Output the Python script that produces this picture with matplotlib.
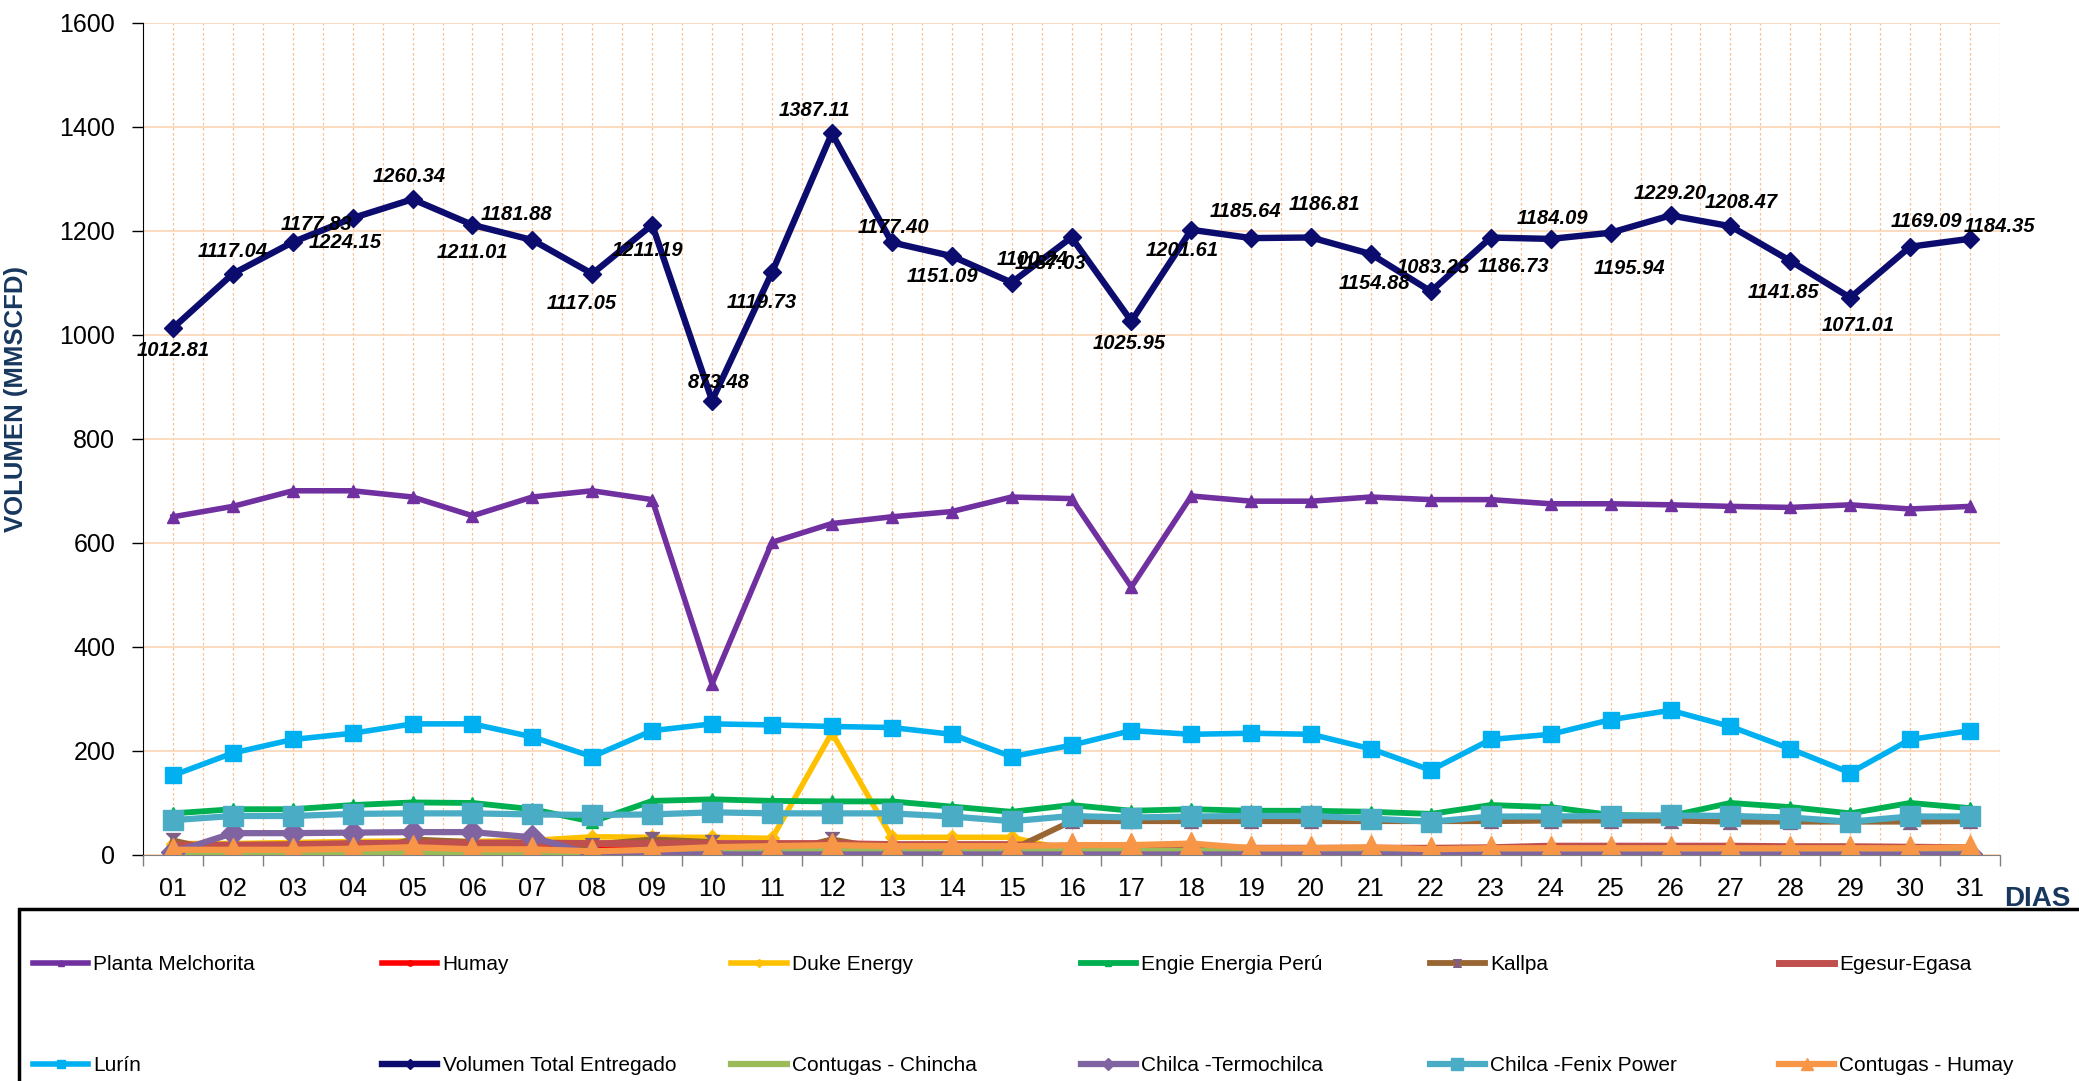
"""
Volumen diario de gas natural entregado por cliente (MMSCFD), dias 01-31.
Output: out.png
"""

import matplotlib
matplotlib.use("Agg")
import matplotlib.pyplot as plt
from matplotlib.path import Path
from matplotlib.patches import Rectangle

W, H = 2079, 1081

days = [f"{d:02d}" for d in range(1, 32)]

melchorita = [650, 670, 700, 700, 688, 652, 688, 700, 683, 329, 601, 637, 650, 660, 688, 685,
              515, 690, 680, 680, 688, 683, 683, 675, 675, 673, 670, 668, 673, 665, 670]
humay = [14, 14, 14, 14, 14, 14, 14, 14, 14, 14, 12, 12, 12, 12, 12, 13,
         13, 13, 13, 13, 13, 10, 10, 10, 10, 10, 10, 10, 10, 10, 10]
duke = [22, 22, 24, 26, 27, 26, 28, 35, 34, 34, 32, 235, 34, 34, 34, 8,
        8, 8, 9, 9, 9, 9, 10, 10, 10, 10, 10, 10, 10, 10, 10]
engie = [80, 88, 88, 96, 101, 100, 88, 64, 104, 107, 104, 103, 103, 93, 83, 96,
         85, 88, 85, 85, 83, 79, 96, 92, 77, 75, 100, 92, 80, 100, 90]
kallpa = [28, 2, 2, 2, 30, 25, 2, 20, 30, 25, 2, 30, 10, 10, 10, 65,
          65, 65, 65, 65, 65, 65, 65, 66, 66, 66, 64, 64, 64, 64, 65]
egesur = [19, 19, 20, 22, 23, 23, 23, 22, 22, 22, 22, 22, 20, 20, 20, 15,
          14, 14, 13, 13, 13, 13, 14, 17, 17, 17, 17, 16, 16, 15, 14]
lurin = [153, 196, 222, 234, 252, 252, 227, 189, 239, 252, 250, 247, 245, 232, 189, 211,
         239, 232, 234, 232, 204, 163, 222, 232, 260, 278, 247, 204, 158, 222, 239]
total = [1012.81, 1117.04, 1177.83, 1224.15, 1260.34, 1211.01, 1181.88, 1117.05, 1211.19,
         873.48, 1119.73, 1387.11, 1177.40, 1151.09, 1100.24, 1187.03, 1025.95, 1201.61,
         1185.64, 1186.81, 1154.88, 1083.25, 1186.73, 1184.09, 1195.94, 1229.20, 1208.47,
         1141.85, 1071.01, 1169.09, 1184.35]
chincha = [3, 3, 3, 3, 3, 3, 3, 3, 6, 8, 8, 8, 8, 8, 8, 8,
           8, 8, 8, 8, 8, 8, 8, 8, 8, 8, 8, 8, 8, 8, 8]
termochilca = [5, 42, 42, 43, 44, 44, 34, 1, 1, 1, 1, 1, 1, 1, 1, 1,
               1, 1, 1, 1, 1, 1, 1, 1, 1, 1, 1, 1, 1, 1, 1]
fenix = [67, 75, 75, 79, 80, 80, 78, 77, 78, 82, 80, 80, 80, 74, 65, 75,
         72, 74, 75, 75, 70, 64, 74, 74, 75, 76, 75, 72, 64, 74, 74]
contugas_humay = [10, 10, 10, 12, 15, 11, 11, 7, 10, 15, 17, 19, 17, 17, 17, 19,
                  19, 22, 13, 13, 15, 11, 13, 13, 13, 13, 13, 13, 13, 13, 15]

# where each total label sits relative to its point (pixels, y up)
label_offsets = [(0, -22), (0, 22), (24, 18), (-7, -24), (-3, 23), (0, -28), (-16, 26),
                 (-11, -30), (-5, -26), (7, 18), (-10, -30), (-17, 23), (2, 15), (-9, -20),
                 (21, 23), (-21, -26), (-2, -22), (-9, -21), (-6, 27), (13, 33), (3, -29),
                 (2, 24), (23, -29), (2, 20), (19, -36), (0, 22), (11, 24), (-7, -32),
                 (8, -28), (16, 25), (29, 12)]

hourglass = Path([(-1, 1), (1, 1), (-1, -1), (1, -1), (-1, 1)],
                 [Path.MOVETO, Path.LINETO, Path.LINETO, Path.LINETO, Path.CLOSEPOLY])

SERIES = [
    ("Planta Melchorita", melchorita, dict(color="#7030A0", marker="^", ms=8, lw=4.0)),
    ("Humay", humay, dict(color="#FF0000", marker="o", ms=7, lw=4.0)),
    ("Duke Energy", duke, dict(color="#FFC000", marker="D", ms=7, lw=4.0)),
    ("Engie Energia Perú", engie, dict(color="#00B050", marker="^", ms=8, lw=4.2)),
    ("Kallpa", kallpa, dict(color="#996633", marker=hourglass, ms=10, lw=4.2,
                            mfc="#7F6084", mec="#7F6084")),
    ("Egesur-Egasa", egesur, dict(color="#C0504D", marker=None, lw=5.0)),
    ("Lurín", lurin, dict(color="#00B0F0", marker="s", ms=11, lw=4.0)),
    ("Volumen Total Entregado", total, dict(color="#0C0C6E", marker="D", ms=9, lw=4.6)),
    ("Contugas - Chincha", chincha, dict(color="#9BBB59", marker=None, lw=4.5)),
    ("Chilca -Termochilca", termochilca, dict(color="#8064A2", marker="D", ms=12, lw=4.5)),
    ("Chilca -Fenix Power", fenix, dict(color="#4BACC6", marker="s", ms=15, lw=4.5)),
    ("Contugas - Humay", contugas_humay, dict(color="#F79646", marker="^", ms=17, lw=4.5)),
]

plt.rcParams.update({"font.family": ["Liberation Sans", "DejaVu Sans"]})

fig = plt.figure(figsize=(W / 100, H / 100), dpi=100, facecolor="white")
ax = fig.add_axes([143 / W, 1 - 855 / H, (2000 - 143) / W, (855 - 22.5) / H])

x = list(range(1, 32))
lines = []
for name, vals, st in SERIES:
    st = dict(st)
    color = st.pop("color")
    ln, = ax.plot(x, vals, color=color, label=name, mfc=st.pop("mfc", color),
                  mec=st.pop("mec", color), solid_joinstyle="round", **st)
    lines.append(ln)

for xi, v, (dx, dy) in zip(x, total, label_offsets):
    ax.annotate(f"{v:.2f}", (xi, v), xytext=(dx, dy), textcoords="offset pixels",
                ha="center", va="center", fontsize=14.5, fontweight="bold",
                fontstyle="italic", color="black", zorder=10)

ax.set_xlim(0.5, 31.5)
ax.set_ylim(0, 1600)
ax.set_yticks(range(0, 1601, 200))
ax.set_xticks(x)
ax.set_xticklabels(days)
ax.set_xticks([i + 0.5 for i in range(0, 32)], minor=True)
ax.tick_params(axis="x", which="major", length=0, pad=16, labelsize=18)
ax.tick_params(axis="x", which="minor", length=8, width=1, color="#808080", direction="out")
ax.tick_params(axis="y", length=8, width=1, pad=12, labelsize=18)

ax.grid(axis="y", color="#FCD5B4", lw=1.2)
for i in range(1, 63):
    ax.axvline(0.5 + i * 0.5, color="#FAC090", lw=0.9, ls=(0, (2, 2)), zorder=0)
ax.set_axisbelow(True)
for s in ("top", "right"):
    ax.spines[s].set_visible(False)
ax.spines["bottom"].set_color("#808080")
ax.spines["left"].set_color("black")

ax.set_ylabel("VOLUMEN (MMSCFD)", fontsize=18.5, fontweight="bold", color="#17375E")
ax.yaxis.set_label_coords((28 - 143) / 1857, (855 - 399) / 832.5)
ax.set_xlabel("DIAS", fontsize=20, fontweight="bold", color="#17375E")
ax.xaxis.set_label_coords((2004 - 143) / 1857, (855 - 899) / 832.5)
ax.xaxis.label.set_ha("left")
ax.xaxis.label.set_va("center")

# legend: boxed area running off the bottom/right, six columns of two rows
fig.add_artist(Rectangle((19 / W, -0.2), 1.5, (H - 909) / H + 0.2, transform=fig.transFigure,
                         fill=False, lw=2.5, edgecolor="black", clip_on=False))
for c in range(6):
    pair = [lines[c], lines[c + 6]]
    fig.legend(handles=pair, labels=[l.get_label() for l in pair], loc="center left",
               bbox_to_anchor=((33 + 349.2 * c) / W, 1 - 1015 / H), frameon=False,
               borderpad=0, borderaxespad=0, handlelength=2.65, handletextpad=0.25,
               labelspacing=3.95, fontsize=15, markerscale=0.55, numpoints=1)

fig.savefig("out.png", dpi=100, facecolor="white")
